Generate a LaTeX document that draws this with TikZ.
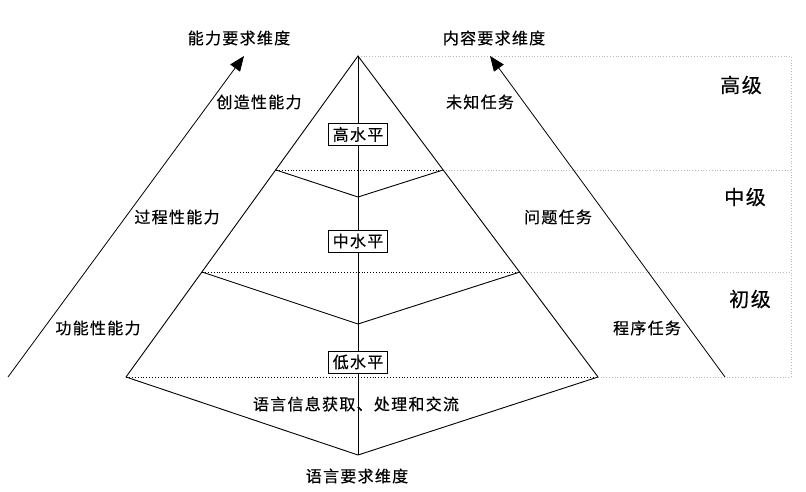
\documentclass[tikz,border=0pt]{standalone}
\usepackage{fontspec}
\newfontfamily\cjk[LetterSpace=8,FakeBold=0.4]{Noto Sans CJK SC}
\usetikzlibrary{arrows.meta}
\begin{document}
\begin{tikzpicture}[x=1pt,y=-1pt,
  lbl/.style={font=\cjk\fontsize{16}{16}\selectfont, inner sep=0pt},
  big/.style={font=\cjk\fontsize{20}{20}\selectfont, inner sep=0pt},
  lvl/.style={draw, fill=white, line width=1pt, font=\cjk\fontsize{16}{16}\selectfont, inner sep=1pt, minimum width=59pt, minimum height=22pt},
  edge/.style={line width=0.9pt},
  dotin/.style={line width=0.9pt, dotted},
  dotout/.style={line width=0.8pt, gray!55, dotted},
  axis/.style={line width=0.8pt, -{Triangle[length=15pt,width=12pt]}}]
\useasboundingbox (0,0) rectangle (806,491);
\fill[white] (0,0) rectangle (806,491);
% pyramid points
\coordinate (A) at (358,56);
\coordinate (L1) at (276,170); \coordinate (R1) at (443,170); \coordinate (V1) at (358,197);
\coordinate (L2) at (202,272); \coordinate (R2) at (520,272); \coordinate (V2) at (358,324);
\coordinate (L3) at (126,377); \coordinate (R3) at (598,377); \coordinate (V3) at (358,455);
% right frame
\coordinate (B0) at (791,56); \coordinate (B1) at (791,170);
\coordinate (B2) at (791,272); \coordinate (B3) at (791,377);
% axes
\coordinate (P0) at (8,377); \coordinate (P1) at (244,56);
\coordinate (Q0) at (725,377); \coordinate (Q1) at (490,56);

\draw[dotout] (A) -- (B0) -- (B3) -- (R3);
\draw[dotout] (R1) -- (B1);
\draw[dotout] (R2) -- (B2);
\draw[dotin] (L1) -- (R1);
\draw[dotin] (L2) -- (R2);
\draw[dotin] (L3) -- (R3);

\draw[edge] (L3) -- (A) -- (R3);
\draw[edge] (L3) -- (V3) -- (R3);
\draw[edge] (L1) -- (V1) -- (R1);
\draw[edge] (L2) -- (V2) -- (R2);
\draw[edge] (A) -- (V3);

\draw[axis] (P0) -- (P1);
\draw[axis] (Q0) -- (Q1);

\node[lvl] (hi) at (358,134.5) {高水平};
\node[lvl] (mid) at (358,241) {中水平};
\node[lvl] (lo) at (358,362) {低水平};

\node[lbl] (t1) at (239,38) {能力要求维度};
\node[lbl] (t2) at (494,38) {内容要求维度};
\node[lbl] (t3) at (357,476) {语言要求维度};
\node[lbl] (lang) at (356,404) {语言信息获取、处理和交流};

\node[lbl] (a1) at (259,102) {创造性能力};
\node[lbl] (a2) at (177,217) {过程性能力};
\node[lbl] (a3) at (98,328) {功能性能力};

\node[lbl] (c1) at (480,102) {未知任务};
\node[lbl] (c2) at (558,217) {问题任务};
\node[lbl] (c3) at (647,328) {程序任务};

\node[big] (g1) at (741,85) {高级};
\node[big] (g2) at (745,197) {中级};
\node[big] (g3) at (750,299) {初级};
\end{tikzpicture}
\end{document}
